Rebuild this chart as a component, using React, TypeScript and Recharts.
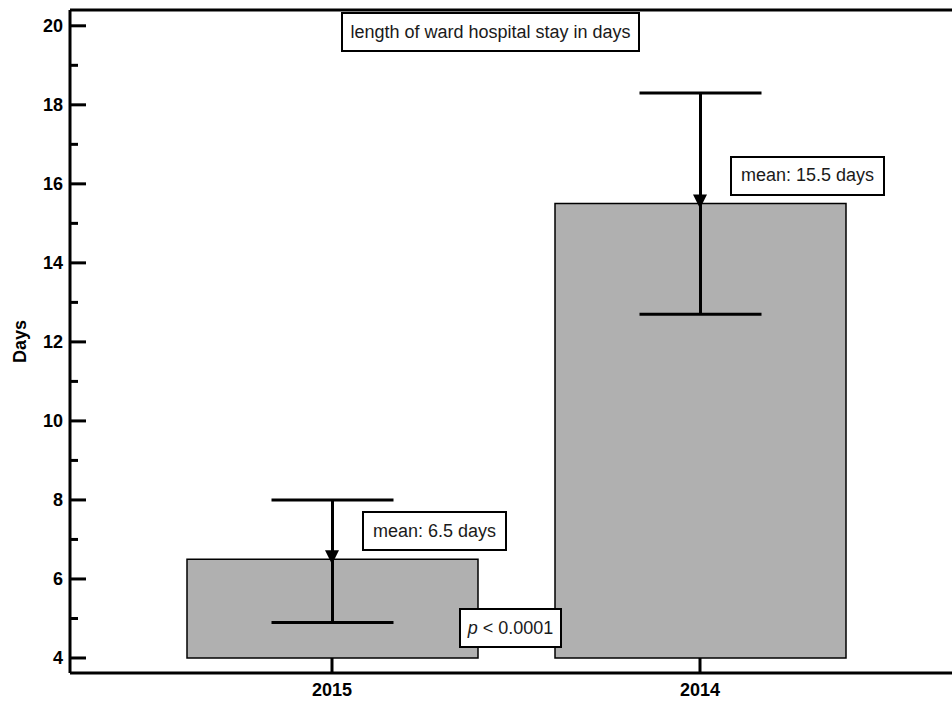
import { Bar, BarChart, ErrorBar, Label, ReferenceDot, ReferenceLine, XAxis, YAxis } from "recharts";

const years = ["2015", "2014"];
const meanDays = [6.5, 15.5];
const lowerDays = [4.9, 12.7];
const upperDays = [8.0, 18.3];
const meanLabels = ["mean: 6.5 days", "mean: 15.5 days"];
const yTicks = [4, 5, 6, 7, 8, 9, 10, 11, 12, 13, 14, 15, 16, 17, 18, 19, 20];
const barBase = 4;
const yMin = 3.62;
const yMax = 20.4;

const font = "'Liberation Sans', Arial, Helvetica, sans-serif";

const data = years.map((year, i) => ({
  year,
  days: [barBase, meanDays[i]],
  err: [meanDays[i] - lowerDays[i], upperDays[i] - meanDays[i]],
}));

function YTick({ x, y, payload }: any) {
  const major = payload.value % 2 === 0;
  return (
    <g>
      <line x1={x} x2={x + (major ? 16 : 8)} y1={y} y2={y} stroke="#000" strokeWidth={3} />
      {major && (
        <text x={x - 7} y={y} dy={6} textAnchor="end" fontFamily={font} fontWeight="bold" fontSize={18} fill="#000">
          {payload.value}
        </text>
      )}
    </g>
  );
}

function XTick({ x, y, payload }: any) {
  return (
    <g>
      <line x1={x} x2={x} y1={y} y2={y - 15} stroke="#000" strokeWidth={3} />
      <text x={x} y={y + 23} textAnchor="middle" fontFamily={font} fontWeight="bold" fontSize={18} fill="#000">
        {payload.value}
      </text>
    </g>
  );
}

function Arrow({ cx, cy }: any) {
  return <path d={`M${cx - 7},${cy - 9} L${cx + 7},${cy - 9} L${cx},${cy + 5} Z`} fill="#000" />;
}

function boxStyle(extra: any = {}) {
  return {
    boxSizing: "border-box" as const,
    border: "2px solid #000",
    background: "#fff",
    fontFamily: font,
    fontSize: 18,
    color: "#1a1a1a",
    display: "flex",
    alignItems: "center",
    justifyContent: "center",
    whiteSpace: "nowrap" as const,
    ...extra,
  };
}

function MeanBox(text: string) {
  return ({ cx, cy }: any) => (
    <foreignObject x={cx + 30} y={cy - 48} width={220} height={42}>
      <div style={boxStyle({ display: "inline-flex", height: 40, padding: "0 9px" })}>{text}</div>
    </foreignObject>
  );
}

export default function App() {
  return (
    <div style={{ position: "absolute", left: 0, top: 0, width: 952, height: 701, background: "#fff" }}>
      <BarChart width={952} height={701} data={data} margin={{ top: 10, right: 0, bottom: 0, left: 0 }}>
        <XAxis
          dataKey="year"
          height={28}
          padding={{ left: 78, right: 68 }}
          axisLine={{ stroke: "#000", strokeWidth: 3 }}
          tickLine={false}
          tickSize={0}
          tickMargin={0}
          tick={<XTick />}
        />
        <YAxis
          width={70}
          type="number"
          domain={[yMin, yMax]}
          allowDataOverflow
          ticks={yTicks}
          interval={0}
          axisLine={{ stroke: "#000", strokeWidth: 3 }}
          tickLine={false}
          tickSize={0}
          tickMargin={0}
          tick={<YTick />}
        >
          <Label
            content={({ viewBox }: any) => {
              const cx = viewBox.x + 20;
              const cy = viewBox.y + viewBox.height / 2;
              return (
                <text
                  x={cx}
                  y={cy}
                  transform={`rotate(-90, ${cx}, ${cy})`}
                  textAnchor="middle"
                  dominantBaseline="central"
                  fontFamily={font}
                  fontWeight="bold"
                  fontSize={18}
                  fill="#000"
                >
                  Days
                </text>
              );
            }}
          />
        </YAxis>
        <ReferenceLine y={yMax} stroke="#000" strokeWidth={3} ifOverflow="extendDomain" />
        <Bar dataKey="days" barSize={291} fill="#b0b0b0" stroke="#000" strokeWidth={1.5} isAnimationActive={false}>
          <ErrorBar dataKey="err" width={61} stroke="#000" strokeWidth={3} direction="y" isAnimationActive={false} />
        </Bar>
        {years.map((year, i) => (
          <ReferenceDot key={`a${year}`} x={year} y={meanDays[i]} r={0} shape={<Arrow />} />
        ))}
        {years.map((year, i) => (
          <ReferenceDot key={`m${year}`} x={year} y={meanDays[i]} r={0} shape={MeanBox(meanLabels[i])} />
        ))}
      </BarChart>
      <div style={boxStyle({ position: "absolute", left: 341, top: 12, width: 299, height: 40 })}>
        length of ward hospital stay in days
      </div>
      <div style={boxStyle({ position: "absolute", left: 459, top: 608, width: 103, height: 40 })}>
        <i>p</i>&nbsp;&lt; 0.0001
      </div>
    </div>
  );
}
